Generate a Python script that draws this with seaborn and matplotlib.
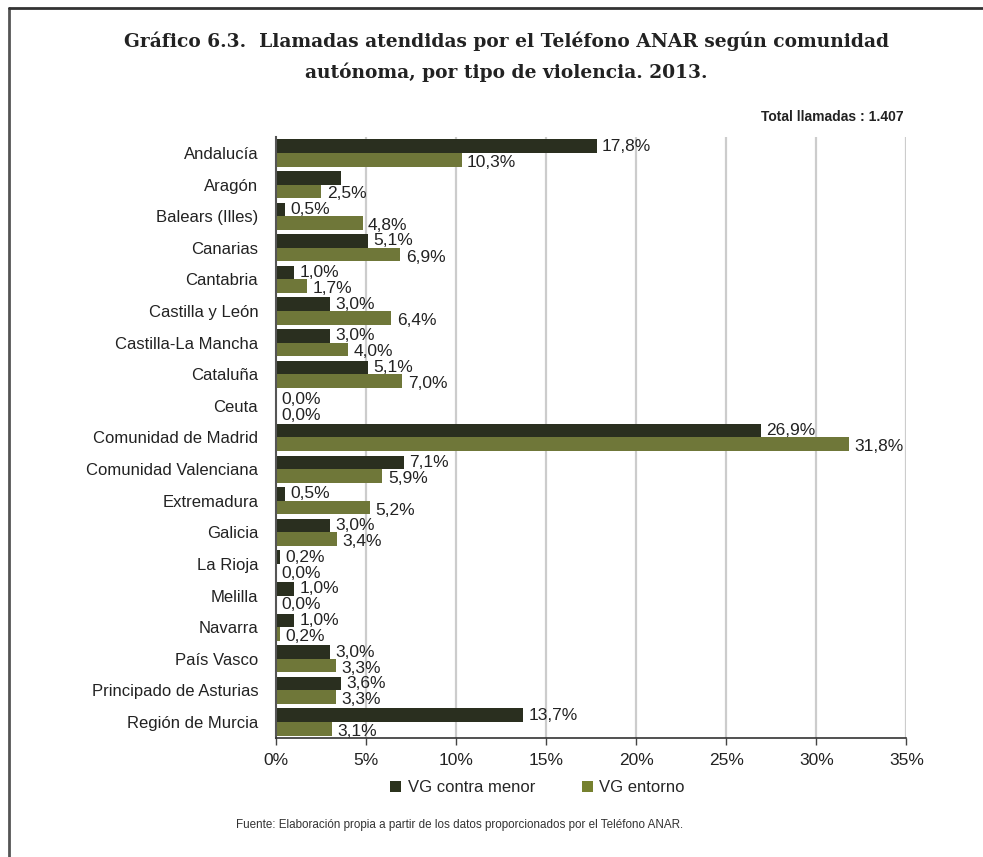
import pandas as pd
import matplotlib
matplotlib.use("Agg")
import matplotlib.pyplot as plt
from matplotlib.patches import Patch
from matplotlib.lines import Line2D
import seaborn as sns

# Data
regions = ["Andalucía", "Aragón", "Balears (Illes)", "Canarias", "Cantabria",
           "Castilla y León", "Castilla-La Mancha", "Cataluña", "Ceuta",
           "Comunidad de Madrid", "Comunidad Valenciana", "Extremadura", "Galicia",
           "La Rioja", "Melilla", "Navarra", "País Vasco",
           "Principado de Asturias", "Región de Murcia"]
vg_menor = [17.8, 3.6, 0.5, 5.1, 1.0, 3.0, 3.0, 5.1, 0.0, 26.9, 7.1, 0.5, 3.0,
            0.2, 1.0, 1.0, 3.0, 3.6, 13.7]
vg_entorno = [10.3, 2.5, 4.8, 6.9, 1.7, 6.4, 4.0, 7.0, 0.0, 31.8, 5.9, 5.2, 3.4,
              0.0, 0.0, 0.2, 3.3, 3.3, 3.1]
# the reference shows no label for the Aragón dark bar
show_menor_label = [True, False] + [True] * 17
series = ["VG contra menor", "VG entorno"]
colors = ["#2b321c", "#76812f"]
x_ticks = [0, 5, 10, 15, 20, 25, 30, 35]

df = pd.DataFrame({"region": regions * 2,
                   "serie": [series[0]] * len(regions) + [series[1]] * len(regions),
                   "pct": vg_menor + vg_entorno})

sns.set_theme(style="white")
plt.rcParams["font.family"] = ["Liberation Sans", "DejaVu Sans"]

fig = plt.figure(figsize=(9.83, 8.57), dpi=100)
ax = fig.add_axes([0.281, 0.139, 0.641, 0.701])

sns.barplot(data=df, y="region", x="pct", hue="serie", order=regions,
            hue_order=series, palette=colors, orient="h", width=0.86,
            edgecolor="none", legend=False, ax=ax)

ax.set_xlim(0, 35)
ax.set_ylim(len(regions) - 0.5, -0.5)
ax.set_xticks(x_ticks)
ax.set_xticklabels([f"{t}%" for t in x_ticks], fontsize=12.5, color="#222222")
ax.set_xlabel("")
ax.set_ylabel("")
ax.tick_params(axis="y", which="major", length=0, labelsize=12,
               labelcolor="#222222", pad=13)
ax.set_yticks([i - 0.5 for i in range(len(regions) + 1)], minor=True)
ax.tick_params(axis="y", which="minor", length=5, width=1, color="#444444")
ax.tick_params(axis="x", length=5, width=1, color="#444444", direction="out",
               bottom=True, pad=6)

for t in x_ticks[1:]:
    ax.axvline(t, color="#cccccc", lw=1.6, zorder=0)

for s in ["top", "right"]:
    ax.spines[s].set_visible(False)
ax.spines["left"].set_color("#555555")
ax.spines["left"].set_linewidth(1.5)
ax.spines["bottom"].set_color("#333333")
ax.spines["bottom"].set_linewidth(1.2)

# value labels
for cont, vals, offs in zip(ax.containers, [vg_menor, vg_entorno], [0.0, 0.08]):
    for i, (bar, v) in enumerate(zip(cont, vals)):
        if cont is ax.containers[0] and not show_menor_label[i]:
            continue
        y = bar.get_y() + bar.get_height() / 2 + offs
        ax.text(v + 0.3, y, f"{v:.1f}%".replace(".", ","), va="center",
                ha="left", fontsize=12.5, color="#222222")

# legend
handles = [Patch(facecolor=c, edgecolor="none") for c in colors]
fig.legend(handles, series, loc="center", bbox_to_anchor=(0.547, 0.081),
           ncol=2, frameon=False, fontsize=12, handlelength=0.65,
           handleheight=0.65, handletextpad=0.4, columnspacing=2.8)

# title and notes
fig.text(0.515, 0.963, "Gráfico 6.3.  Llamadas atendidas por el Teléfono ANAR según comunidad\nautónoma, por tipo de violencia. 2013.",
         ha="center", va="top", fontsize=13.4, fontweight="bold",
         family=["DejaVu Serif"], color="#222222", linespacing=1.7)
fig.text(0.919, 0.863, "Total llamadas : 1.407", ha="right", va="center",
         fontsize=10, fontweight="bold", color="#222222")
fig.text(0.468, 0.037, "Fuente: Elaboración propia a partir de los datos proporcionados por el Teléfono ANAR.",
         ha="center", va="center", fontsize=8.4, color="#333333")

# frame lines (left and top)
fig.add_artist(Line2D([0.009, 0.009], [0.0, 0.991], color="#555555", lw=2))
fig.add_artist(Line2D([0.009, 1.0], [0.991, 0.991], color="#333333", lw=2))

fig.savefig("out.png", dpi=100, facecolor="white")
